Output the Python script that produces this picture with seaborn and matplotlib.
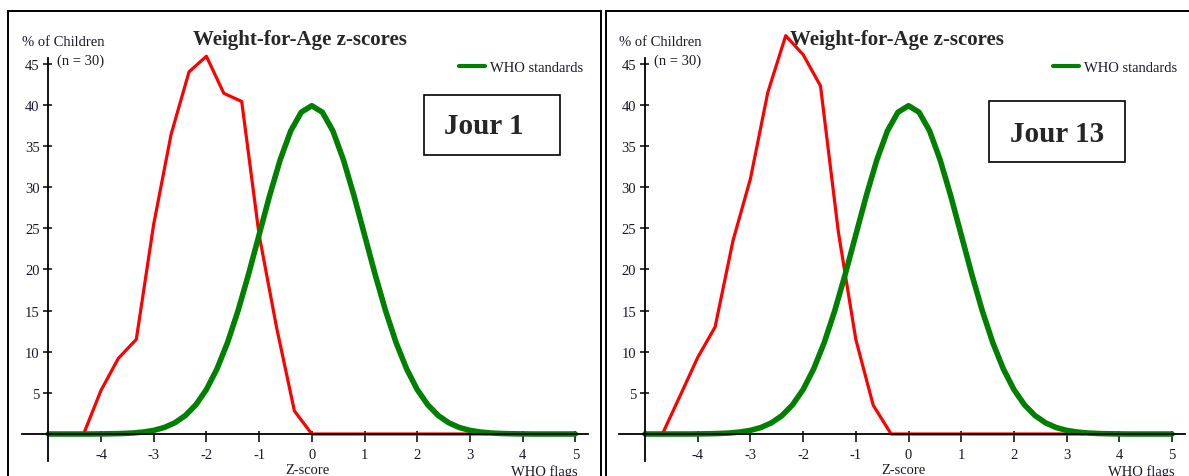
import numpy as np
import matplotlib
matplotlib.use("Agg")
import matplotlib.pyplot as plt
import seaborn as sns
from matplotlib.patches import Rectangle

# ---- data ----
who_z = [-5.0, -4.8, -4.6, -4.4, -4.2, -4.0, -3.8, -3.6, -3.4, -3.2,
         -3.0, -2.8, -2.6, -2.4, -2.2, -2.0, -1.8, -1.6, -1.4, -1.2,
         -1.0, -0.8, -0.6, -0.4, -0.2, 0.0, 0.2, 0.4, 0.6, 0.8,
         1.0, 1.2, 1.4, 1.6, 1.8, 2.0, 2.2, 2.4, 2.6, 2.8,
         3.0, 3.2, 3.4, 3.6, 3.8, 4.0, 4.2, 4.4, 4.6, 4.8, 5.0]
who_pct = [0.0, 0.0, 0.0, 0.0, 0.0, 0.01, 0.03, 0.06, 0.12, 0.24,
           0.44, 0.79, 1.36, 2.24, 3.55, 5.40, 7.90, 11.09, 14.97, 19.42,
           24.20, 28.97, 33.32, 36.83, 39.10, 39.89, 39.10, 36.83, 33.32, 28.97,
           24.20, 19.42, 14.97, 11.09, 7.90, 5.40, 3.55, 2.24, 1.36, 0.79,
           0.44, 0.24, 0.12, 0.06, 0.03, 0.01, 0.0, 0.0, 0.0, 0.0, 0.0]

day1_z = [-4.33, -4.0, -3.67, -3.33, -3.0, -2.67, -2.33, -2.0, -1.67, -1.33,
          -1.0, -0.67, -0.33, 0.0, 0.33, 0.67, 1.0, 1.33, 1.67, 2.0,
          2.33, 2.67, 3.0, 3.33]
day1_pct = [0.0, 5.3, 9.2, 11.5, 25.5, 36.4, 44.0, 45.9, 41.4, 40.4,
            24.2, 13.0, 2.8, 0.0, 0.0, 0.0, 0.0, 0.0, 0.0, 0.0,
            0.0, 0.0, 0.0, 0.0]

day13_z = [-4.67, -4.33, -4.0, -3.67, -3.33, -3.0, -2.67, -2.33, -2.0, -1.67,
           -1.33, -1.0, -0.67, -0.33, 0.0, 0.33, 0.67, 1.0, 1.33, 1.67,
           2.0, 2.33, 2.67, 3.0, 3.33]
day13_pct = [0.0, 4.7, 9.3, 13.0, 23.5, 31.0, 41.5, 48.4, 46.1, 42.3,
             24.5, 11.5, 3.5, 0.0, 0.0, 0.0, 0.0, 0.0, 0.0, 0.0,
             0.0, 0.0, 0.0, 0.0, 0.0]

x_ticks = [-4, -3, -2, -1, 0, 1, 2, 3, 4, 5]
y_ticks = [5, 10, 15, 20, 25, 30, 35, 40, 45]
day_labels = ["Jour 1", "Jour 13"]

RED = "#ff0000"
GREEN = "#008000"
TXT = "#1a1a2a"

sns.set_style("white")
plt.rcParams['font.family'] = ['Liberation Serif', 'DejaVu Serif']
plt.rcParams['axes.unicode_minus'] = False

W, H = 1189, 477
fig = plt.figure(figsize=(W / 100, H / 100), dpi=100)


def fx(x):
    return x / W


def fy(y):
    return 1 - y / H


PX_X = 52.7      # pixels per z unit
PX_Y = 8.23      # pixels per percent
ZERO_Y = 435     # pixel row of y = 0
axis_x = [48.3, 645.0]   # pixel column of the y axis in each panel

# per-panel box around the "Jour" label: left, top, right, bottom, text centre, baseline
boxes = [(424, 95.7, 560, 156, 483.7, 134.0),
         (989.3, 102.3, 1125.3, 162.7, 1057.0, 141.7)]
legend_x = [459, 1053]

series = [(day1_z, day1_pct), (day13_z, day13_pct)]

for i, (rz, rp) in enumerate(series):
    x0 = axis_x[i]
    off = x0 - axis_x[0]
    ax = fig.add_axes([fx(x0 - 0.6 * PX_X), fy(ZERO_Y + 5 * PX_Y),
                       11 * PX_X / W, 55 * PX_Y / H])
    ax.patch.set_alpha(0)

    sns.lineplot(x=rz, y=rp, color=RED, lw=2.3, estimator=None, ax=ax)
    sns.lineplot(x=who_z, y=who_pct, color=GREEN, lw=4.0, estimator=None, ax=ax)

    ax.set_xlim(-5.6, 5.4)
    ax.set_ylim(-5, 50)

    for s in ['top', 'right']:
        ax.spines[s].set_visible(False)
    ax.spines['left'].set_position(('data', -5))
    ax.spines['left'].set_bounds(-3.25, 45.7)
    ax.spines['bottom'].set_position(('data', 0))
    ax.spines['bottom'].set_bounds(-5.5, 5.24)
    for s in ['left', 'bottom']:
        ax.spines[s].set_linewidth(1.3)
        ax.spines[s].set_color('black')

    ax.set_xticks(x_ticks)
    ax.set_xticklabels([str(t) for t in x_ticks])
    ax.set_yticks(y_ticks)
    ax.set_yticklabels([str(t) for t in y_ticks])
    ax.set_xticks(x_ticks, minor=True)
    ax.set_yticks(y_ticks, minor=True)
    ax.xaxis.remove_overlapping_locs = False
    ax.yaxis.remove_overlapping_locs = False
    ax.tick_params(axis='x', which='both', bottom=True, top=False)
    ax.tick_params(axis='y', which='both', left=True, right=False)
    ax.tick_params(axis='x', which='major', direction='out', length=5.8,
                   width=1.1, pad=4.5, labelsize=10.5, color='black',
                   labelcolor=TXT)
    ax.tick_params(axis='x', which='minor', direction='in', length=2.2,
                   width=1.1, color='black')
    ax.tick_params(axis='y', which='major', direction='out', length=3.6,
                   width=1.1, pad=2.7, labelsize=10.5, color='black',
                   labelcolor=TXT)
    ax.tick_params(axis='y', which='minor', direction='in', length=2.9,
                   width=1.1, color='black')
    ax.set_xlabel('')
    ax.set_ylabel('')

    leg = ax.legend(handles=[ax.lines[1]], labels=['WHO standards'],
                    loc='center left',
                    bbox_to_anchor=(fx(legend_x[i]), fy(68.5)),
                    bbox_transform=fig.transFigure, frameon=False,
                    borderpad=0, borderaxespad=0, handlelength=1.75,
                    handletextpad=0.35, fontsize=10.5)
    for t in leg.get_texts():
        t.set_color(TXT)
    leg.get_lines()[0].set_linewidth(3)

    # texts around the plot
    fig.text(fx(300 + off), fy(45), 'Weight-for-Age z-scores', ha='center',
             va='baseline', fontsize=15, fontweight='bold')
    fig.text(fx(105 + off), fy(46.5), '% of Children', ha='right',
             va='baseline', fontsize=10.5, color=TXT)
    fig.text(fx(104 + off), fy(65), '(n = 30)', ha='right',
             va='baseline', fontsize=10.5, color=TXT)
    fig.text(fx(307 + off), fy(474.5), 'Z-score', ha='center',
             va='baseline', fontsize=10.5, color=TXT)
    fig.text(fx(511 + off), fy(476.5), 'WHO flags', ha='left',
             va='baseline', fontsize=10.5, color=TXT)

    bl, bt, br, bb, tx, tb = boxes[i]
    fig.add_artist(Rectangle((fx(bl), fy(bb)), fx(br) - fx(bl), fy(bt) - fy(bb),
                             transform=fig.transFigure, fill=False,
                             ec='black', lw=1.2))
    fig.text(fx(tx), fy(tb), day_labels[i], ha='center', va='baseline',
             fontsize=21, fontweight='bold')

# panel frames
fig.add_artist(Rectangle((fx(8), fy(495)), fx(600.7) - fx(8), fy(12.3) - fy(495),
                         transform=fig.transFigure, fill=False, ec='black', lw=1.4))
fig.add_artist(Rectangle((fx(605.7), fy(495)), fx(1210) - fx(605.7), fy(12.3) - fy(495),
                         transform=fig.transFigure, fill=False, ec='black', lw=1.4))

fig.savefig('out.png', dpi=100, facecolor='white')
